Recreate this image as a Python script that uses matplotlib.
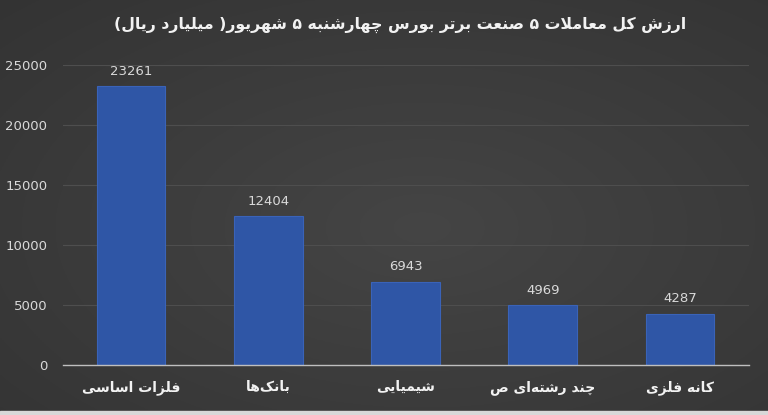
import matplotlib
matplotlib.use("Agg")
import matplotlib.pyplot as plt
import numpy as np

# ---------------- data ----------------
title_text = "ارزش کل معاملات ۵ صنعت برتر بورس چهارشنبه ۵ شهریور( میلیارد ریال)"
categories = ["فلزات اساسی", "بانک\u200cها", "شیمیایی", "چند رشته\u200cای ص", "کانه فلزی"]
values = [23261, 12404, 6943, 4969, 4287]
yticks = [0, 5000, 10000, 15000, 20000, 25000]

# ------------- minimal Arabic shaping for display -------------
FORMS = {
    '\u0627': ('\uFE8D', '\uFE8E', None, None),
    '\u0628': ('\uFE8F', '\uFE90', '\uFE91', '\uFE92'),
    '\u062A': ('\uFE95', '\uFE96', '\uFE97', '\uFE98'),
    '\u062F': ('\uFEA9', '\uFEAA', None, None),
    '\u0631': ('\uFEAD', '\uFEAE', None, None),
    '\u0632': ('\uFEAF', '\uFEB0', None, None),
    '\u0633': ('\uFEB1', '\uFEB2', '\uFEB3', '\uFEB4'),
    '\u0634': ('\uFEB5', '\uFEB6', '\uFEB7', '\uFEB8'),
    '\u0635': ('\uFEB9', '\uFEBA', '\uFEBB', '\uFEBC'),
    '\u0639': ('\uFEC9', '\uFECA', '\uFECB', '\uFECC'),
    '\u0641': ('\uFED1', '\uFED2', '\uFED3', '\uFED4'),
    '\u0644': ('\uFEDD', '\uFEDE', '\uFEDF', '\uFEE0'),
    '\u0645': ('\uFEE1', '\uFEE2', '\uFEE3', '\uFEE4'),
    '\u0646': ('\uFEE5', '\uFEE6', '\uFEE7', '\uFEE8'),
    '\u0647': ('\uFEE9', '\uFEEA', '\uFEEB', '\uFEEC'),
    '\u0648': ('\uFEED', '\uFEEE', None, None),
    '\u0686': ('\uFB7A', '\uFB7B', '\uFB7C', '\uFB7D'),
    '\u06A9': ('\uFB8E', '\uFB8F', '\uFB90', '\uFB91'),
    '\u06CC': ('\uFBFC', '\uFBFD', '\uFBFE', '\uFBFF'),
}


def joins_next(c):
    return c in FORMS and FORMS[c][2] is not None


def shape_rtl(s):
    out = []
    i = 0
    n = len(s)
    while i < n:
        c = s[i]
        prev = s[i - 1] if i > 0 else None
        nxt = s[i + 1] if i + 1 < n else None
        if c not in FORMS:
            if c != '\u200c':
                out.append(c)
            i += 1
            continue
        cp = joins_next(prev) if prev else False
        if c == '\u0644' and nxt == '\u0627':
            out.append('\uFEFC' if cp else '\uFEFB')
            i += 2
            continue
        cn = joins_next(c) and (nxt in FORMS)
        iso, fin, ini, med = FORMS[c]
        if cp and cn:
            out.append(med)
        elif cp:
            out.append(fin)
        elif cn:
            out.append(ini)
        else:
            out.append(iso)
        i += 1
    vis = ''.join(reversed(out))
    vis = vis.translate(str.maketrans({'(': ')', ')': '('}))
    return vis


# ---------------- figure ----------------
W, H = 768, 415
fig = plt.figure(figsize=(W / 100, H / 100), dpi=100)
fig.patch.set_facecolor('#363636')

# background gradient
bg = fig.add_axes([0, 0, 1, 1], zorder=-10)
yy, xx = np.mgrid[0:1:200j, 0:1:400j]
r = np.sqrt(((xx - 0.55) / 0.9) ** 2 + ((yy - 0.45) / 0.9) ** 2)
val = 0.27 - 0.08 * r
bg.imshow(np.dstack([val, val, val]), extent=[0, 1, 0, 1], aspect='auto', origin='lower')
bg.add_patch(plt.Rectangle((0, 0), 1, 4 / H, color='#d8d8d8', transform=bg.transAxes))
bg.set_axis_off()

ax = fig.add_axes([62.5 / W, 1 - 365 / H, 686 / W, 300 / H])
ax.set_facecolor('none')
x = np.arange(len(categories))
ax.bar(x, values, width=0.5, color='#2F56A6', edgecolor='#3a63b8', linewidth=0.8, zorder=3)
ax.set_xlim(-0.5, len(categories) - 0.5)
ax.set_ylim(0, 25000)
ax.set_yticks(yticks)
ax.set_yticklabels([str(t) for t in yticks], color='#d9d9d9', fontsize=9.5)
ax.tick_params(axis='y', length=0, pad=11)
ax.tick_params(axis='x', length=0, pad=11)
ax.set_xticks(x)
ax.set_xticklabels([shape_rtl(c) for c in categories], color='#f2f2f2',
                   fontsize=10, fontweight='bold', family='DejaVu Sans')
ax.grid(axis='y', color='#4e4e4e', linewidth=0.8, zorder=0)
for s in ['top', 'right', 'left']:
    ax.spines[s].set_visible(False)
ax.spines['bottom'].set_color('#bfbfbf')
ax.spines['bottom'].set_linewidth(1.0)
ax.spines['bottom'].set_zorder(4)

for xi, v in zip(x, values):
    ax.annotate(str(v), (xi, v), xytext=(0, 6), textcoords='offset points',
                ha='center', va='bottom', color='#d9d9d9', fontsize=9.5)

fig.text(400 / W, 1 - 25 / H, shape_rtl(title_text), ha='center', va='center',
         color='#f2f2f2', fontsize=11.3, fontweight='bold', family='DejaVu Sans')

fig.savefig('out.png', dpi=100, facecolor=fig.get_facecolor())
